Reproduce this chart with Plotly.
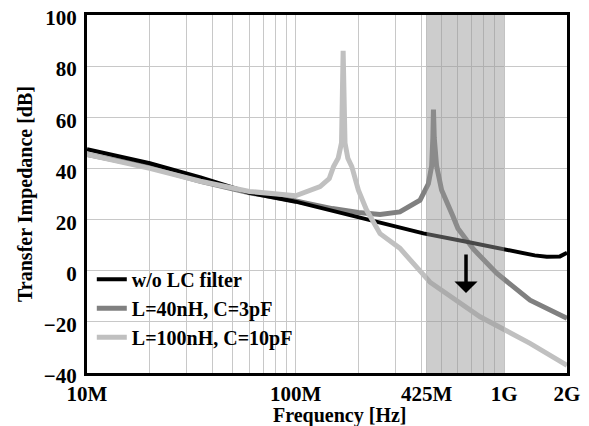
import plotly.graph_objects as go
import numpy as np

# ---- data (Hz, dB) ----
freq_black = [1e7, 2e7, 3.5e7, 6e7, 1e8, 1.8e8, 3.2e8, 4.1e8, 6.6e8, 1e9, 1.4e9, 1.6e9, 1.85e9, 2e9]
db_black = [47.5, 42.0, 36.5, 30.5, 27.0, 22.0, 17.0, 14.6, 11.3, 8.3, 6.0, 5.5, 5.6, 7.0]

freq_lc1 = [1e7, 2e7, 3.5e7, 6e7, 1e8, 1.5e8, 2e8, 2.54e8, 3.16e8, 3.95e8, 4.33e8, 4.49e8, 4.55e8,
            4.58e8, 4.62e8, 4.74e8, 5.01e8, 5.4e8, 5.7e8, 6e8, 6.6e8, 7.11e8, 9.2e8, 1.33e9, 2e9]
db_lc1 = [45.5, 40.5, 35.0, 30.5, 27.3, 24.3, 22.8, 22.0, 23.0, 27.6, 34.0, 41.0, 52.0,
          63.0, 52.0, 41.0, 31.6, 26.0, 21.0, 16.5, 12.0, 8.5, -1.0, -11.5, -18.6]

freq_lc2 = [1e7, 2e7, 3.5e7, 6e7, 1e8, 1.31e8, 1.45e8, 1.52e8, 1.6e8, 1.66e8, 1.69e8,
            1.725e8, 1.78e8, 1.86e8, 2.0e8, 2.19e8, 2.54e8, 3.16e8, 4.41e8, 7.66e8, 1.33e9, 2e9]
db_lc2 = [45.5, 40.0, 35.0, 31.0, 29.3, 32.9, 36.0, 40.7, 44.0, 50.0, 86.0,
          50.0, 44.0, 40.7, 31.5, 23.7, 14.5, 8.8, -4.5, -18.0, -28.4, -37.0]

series_names = ["w/o LC filter", "L=40nH, C=3pF", "L=100nH, C=10pF"]
series_colors = ["#000000", "#808080", "#c0c0c0"]

x_label_vals = [1e7, 1e8, 4.25e8, 1e9, 2e9]
x_label_text = ["10M", "100M", "425M", "1G", "2G"]
y_tickvals = [-40, -20, 0, 20, 40, 60, 80, 100]
y_min, y_max = -40, 100

band_lo, band_hi = 4.25e8, 1e9
arrow_f, arrow_top, arrow_tip = 6.56e8, 6.9, -8.7

grid_vals = [m * 10 ** e for e in range(7, 10) for m in range(1, 10) if m * 10 ** e <= 2e9]
x_tickvals = sorted(set(grid_vals + x_label_vals))
label_map = dict(zip(x_label_vals, x_label_text))
x_ticktext = [label_map.get(v, "") for v in x_tickvals]

FONT = "Liberation Serif"

fig = go.Figure()
# draw order: dark gray under black, light gray on top; legend order via legendrank
fig.add_trace(go.Scatter(x=freq_lc1, y=db_lc1, mode="lines", name=series_names[1], legendrank=2,
                         line=dict(color=series_colors[1], width=5)))
fig.add_trace(go.Scatter(x=freq_black, y=db_black, mode="lines", name=series_names[0], legendrank=1,
                         line=dict(color=series_colors[0], width=4)))
fig.add_trace(go.Scatter(x=freq_lc2, y=db_lc2, mode="lines", name=series_names[2], legendrank=3,
                         line=dict(color=series_colors[2], width=5)))

# shaded band (semi-transparent, over the curves)
fig.add_trace(go.Scatter(x=[band_lo, band_hi, band_hi, band_lo, band_lo],
                         y=[y_min, y_min, y_max, y_max, y_min],
                         mode="lines", fill="toself", fillcolor="rgba(150,150,150,0.48)",
                         line=dict(width=0, color="rgba(0,0,0,0)"),
                         showlegend=False, hoverinfo="skip"))

fig.add_annotation(x=np.log10(arrow_f), y=arrow_tip, ax=np.log10(arrow_f), ay=arrow_top,
                   xref="x", yref="y", axref="x", ayref="y", text="",
                   showarrow=True, arrowhead=1, arrowsize=1.1, arrowwidth=3.5,
                   arrowcolor="#000000")

fig.add_annotation(text="Frequency [Hz]", xref="paper", yref="paper",
                   x=(340 - 87) / 480, y=(373 - 415) / 358, xanchor="center", yanchor="middle",
                   showarrow=False, font=dict(family=FONT, size=20, weight="bold"))
fig.add_annotation(text="Transfer Impedance [dB]", xref="paper", yref="paper",
                   x=(25 - 87) / 480, y=0.5, xanchor="center", yanchor="middle", textangle=-90,
                   showarrow=False, font=dict(family=FONT, size=20, weight="bold"))

# page body has an 8px margin: shrink the figure so the plot sits where the reference has it
fig.update_layout(
    width=581, height=418,
    margin=dict(l=79, r=22, t=7, b=53),
    paper_bgcolor="white", plot_bgcolor="white",
    font=dict(family=FONT, size=20, color="black"),
    showlegend=True,
    legend=dict(x=0.01, y=0.316, xanchor="left", yanchor="top",
                bgcolor="rgba(0,0,0,0)", font=dict(family=FONT, size=20, weight="bold"),
                itemwidth=30),
)

fig.update_xaxes(
    type="log", range=[7, np.log10(2e9)], automargin=False,
    tickmode="array", tickvals=x_tickvals, ticktext=x_ticktext,
    tickfont=dict(family=FONT, size=21, weight="bold"), ticklabeloverflow="allow",
    showgrid=True, gridcolor="#c8c8c8", gridwidth=1, zeroline=False,
    showline=True, linewidth=3, linecolor="black", mirror=True,
    ticks="", ticklen=0,
)
fig.update_yaxes(
    range=[y_min, y_max], tickmode="array", tickvals=y_tickvals, automargin=False,
    tickfont=dict(family=FONT, size=21, weight="bold"), ticklabeloverflow="allow",
    ticklabelshift=3,
    showgrid=True, gridcolor="#c8c8c8", gridwidth=1, zeroline=False,
    showline=True, linewidth=3, linecolor="black", mirror=True,
    ticks="outside", ticklen=3, tickcolor="rgba(0,0,0,0)",
)

fig.write_html("out.html")
